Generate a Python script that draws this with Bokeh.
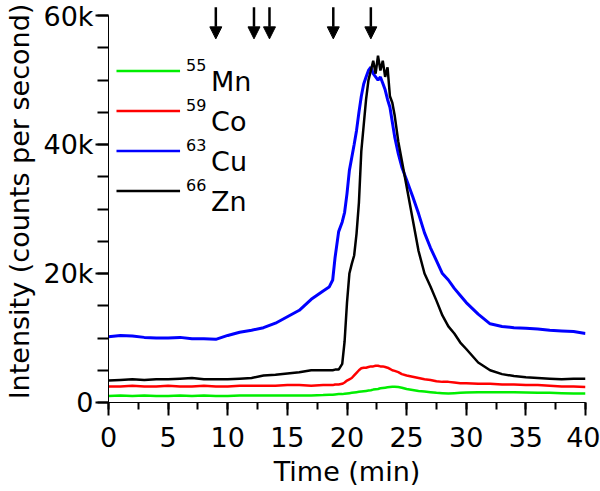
from bokeh.plotting import figure
from bokeh.models import Range1d, SingleIntervalTicker, Arrow, NormalHead, Label, ColumnDataSource
from bokeh.embed import file_html
from bokeh.resources import INLINE

# Time (min)
t = [0, 1, 2, 3, 4, 5, 6, 7, 8, 9, 10, 11, 12, 13, 14, 15, 16, 17, 18,
     18.5, 18.8,
     19.0, 19.3, 19.6, 19.8,
     20.0, 20.2, 20.4, 20.6, 20.8, 21.0, 21.2, 21.4, 21.6, 21.8,
     22.0, 22.2, 22.4, 22.6, 22.8, 23.0, 23.2, 23.4, 23.6, 23.8,
     24.0, 24.3, 24.6,
     25.0, 25.5, 26.0, 26.5, 27.0, 27.5, 28.0, 28.5, 29.0, 29.5, 30.0,
     31, 32, 33, 34, 35, 36, 37, 38, 39, 40]

# Intensities in thousands of counts per second
cu63 = [10.2, 10.4, 10.3, 10.1, 10.0, 10.0, 10.1, 9.9, 9.9, 9.8, 10.4, 10.9, 11.2, 11.6, 12.3, 13.3, 14.3, 16.0, 17.3,
        17.9, 19.0,
        22.5, 26.5, 28.0, 29.5,
        32.4, 36.0, 38.0, 40.0, 42.2, 45.0, 47.5, 49.4, 50.5, 51.5,
        52.0, 51.0, 50.5, 50.0, 50.5, 49.5, 48.5, 47.0, 45.8, 43.5,
        41.2, 38.6, 36.5,
        34.5, 32.0, 29.3, 26.3, 24.0, 22.0, 20.0, 19.0, 17.7, 16.6, 15.5,
        13.7, 12.2, 11.8, 11.6, 11.5, 11.4, 11.2, 11.1, 11.0, 10.7]

zn66 = [3.4, 3.5, 3.6, 3.5, 3.6, 3.6, 3.7, 3.8, 3.6, 3.6, 3.6, 3.7, 3.8, 4.2, 4.3, 4.5, 4.7, 5.0, 5.0,
        5.0, 5.0,
        5.1, 5.1, 6.0, 9.5,
        15.5, 20.0, 21.5, 22.8, 26.2, 31.0, 39.0, 43.0, 47.0, 50.0,
        51.5, 53.0, 51.0, 53.8, 51.5, 53.0, 50.5, 52.0, 47.5, 46.5,
        44.5, 40.5, 37.5,
        33.5, 28.5, 23.5, 20.0, 18.0, 15.8, 13.5, 11.8, 10.7, 9.3, 8.3,
        6.2, 5.0, 4.4, 4.1, 3.9, 3.8, 3.7, 3.6, 3.7, 3.7]

co59 = [2.5, 2.5, 2.6, 2.5, 2.5, 2.6, 2.5, 2.5, 2.6, 2.5, 2.5, 2.6, 2.6, 2.6, 2.6, 2.7, 2.7, 2.6, 2.7,
        2.7, 2.7,
        2.8, 2.8, 2.9, 3.1,
        3.4, 3.6, 3.8, 4.2, 4.6, 5.0, 5.3, 5.4, 5.4, 5.5,
        5.6, 5.6, 5.7, 5.7, 5.6, 5.6, 5.5, 5.4, 5.2, 5.0,
        4.9, 4.7, 4.4,
        4.2, 4.0, 3.8, 3.6, 3.5, 3.3, 3.2, 3.2, 3.1, 3.0, 3.0,
        2.9, 2.9, 2.8, 2.8, 2.7, 2.7, 2.6, 2.5, 2.5, 2.4]

mn55 = [1.0, 1.1, 1.0, 1.1, 1.0, 1.0, 1.1, 1.0, 1.1, 1.0, 1.0, 1.1, 1.1, 1.1, 1.1, 1.1, 1.1, 1.1, 1.15,
        1.2, 1.2,
        1.25, 1.3, 1.3, 1.35,
        1.4, 1.45, 1.5, 1.55, 1.6, 1.65, 1.7, 1.75, 1.8, 1.85,
        1.9, 2.0, 2.05, 2.1, 2.2, 2.25, 2.3, 2.35, 2.4, 2.45,
        2.45, 2.4, 2.3,
        2.1, 1.95, 1.8, 1.7, 1.6, 1.5, 1.45, 1.4, 1.45, 1.5, 1.55,
        1.6, 1.6, 1.6, 1.6, 1.55, 1.5, 1.5, 1.45, 1.4, 1.4]

# Fraction-collection arrows (time, min)
arrow_t = [9.0, 12.2, 13.5, 18.85, 22.0]

# Axis tick labels
y_major = [0, 20, 40, 60]
y_major_labels = ["0", "20k", "40k", "60k"]

# Legend
leg_mass = ["55", "59", "63", "66"]
leg_elem = ["Mn", "Co", "Cu", "Zn"]
leg_color = ["#00ee00", "#ff0000", "#0000ff", "#000000"]

FONT = "DejaVu Sans"

p = figure(width=600, height=491, output_backend="svg", toolbar_location=None,
           x_range=Range1d(0, 40), y_range=Range1d(0, 62.35),
           min_border_left=106, min_border_right=15, min_border_top=0, min_border_bottom=89)
p.outline_line_color = None
p.xgrid.grid_line_color = None
p.ygrid.grid_line_color = None

# x axis (configured the same way as the y axis, whose ticks render)
xa = p.xaxis[0]
xa.ticker = SingleIntervalTicker(interval=5, num_minor_ticks=2)
xa.bounds = (0, 40)
xa.axis_label = "Time (min)"
xa.major_tick_line_width = 2
xa.minor_tick_line_width = 2
xa.major_tick_out = 13
xa.major_tick_in = 0
xa.minor_tick_out = 7
xa.minor_tick_in = 0
xa.major_label_text_font = FONT
xa.major_label_text_font_size = "27px"
xa.major_label_text_color = "black"
xa.major_label_standoff = 11
xa.axis_label_text_font = FONT
xa.axis_label_text_font_size = "27px"
xa.axis_label_text_font_style = "normal"
xa.axis_label_text_color = "black"
xa.axis_label_standoff = 6

# y axis
ya = p.yaxis[0]
ya.ticker = SingleIntervalTicker(interval=20, num_minor_ticks=4)
ya.major_label_overrides = {v: s for v, s in zip(y_major, y_major_labels)}
ya.bounds = (0, 60)
ya.axis_label = "Intensity (counts per second)"
ya.major_tick_line_width = 2
ya.minor_tick_line_width = 2
ya.major_tick_out = 13
ya.major_tick_in = 0
ya.minor_tick_out = 11
ya.minor_tick_in = 0
ya.major_label_text_font = FONT
ya.major_label_text_font_size = "27px"
ya.major_label_text_color = "black"
ya.major_label_standoff = 2
ya.axis_label_text_font = FONT
ya.axis_label_text_font_size = "27px"
ya.axis_label_text_font_style = "normal"
ya.axis_label_text_color = "black"
ya.axis_label_standoff = 6

src = ColumnDataSource(dict(t=t, cu=cu63, zn=zn66, co=co59, mn=mn55))
p.line("t", "cu", source=src, line_color="#0000ff", line_width=3)
p.line("t", "zn", source=src, line_color="#000000", line_width=2.5)
p.line("t", "co", source=src, line_color="#ff0000", line_width=2.5)
p.line("t", "mn", source=src, line_color="#00ee00", line_width=2.5)

# arrows
asrc = ColumnDataSource(dict(x=arrow_t, y0=[61.3] * len(arrow_t), y1=[56.4] * len(arrow_t)))
p.add_layout(Arrow(end=NormalHead(size=12, fill_color="black", line_color="black", line_width=1),
                   x_start="x", y_start="y0", x_end="x", y_end="y1", source=asrc,
                   line_color="black", line_width=2.5))

# legend (manual, with superscript mass numbers)
for i, (m, e, c) in enumerate(zip(leg_mass, leg_elem, leg_color)):
    yl = 51.4 - 6.2 * i
    p.line([0.67, 6.0], [yl, yl], line_color=c, line_width=2.5)
    p.add_layout(Label(x=6.5, y=52.3 - 6.2 * i, text=m, text_font=FONT,
                       text_font_size="16px", text_color="black", text_baseline="alphabetic"))
    p.add_layout(Label(x=8.6, y=49.8 - 6.2 * i, text=e, text_font=FONT,
                       text_font_size="27px", text_color="black", text_baseline="alphabetic"))

open("out.html", "w").write(file_html(p, INLINE))
